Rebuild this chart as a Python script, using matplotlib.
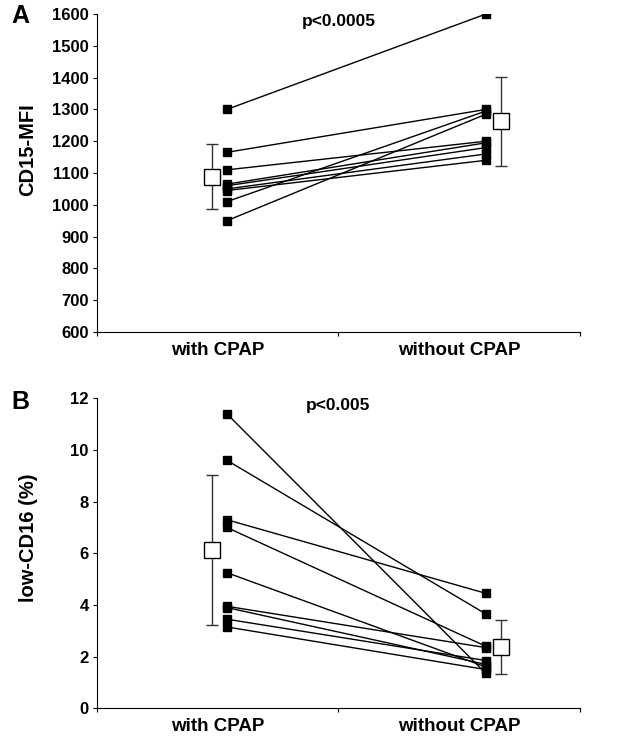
import matplotlib.pyplot as plt
import numpy as np

plt.rcParams["font.family"] = ["Liberation Sans", "DejaVu Sans"]
plt.rcParams["font.weight"] = "bold"

categories = ["with CPAP", "without CPAP"]

# panel A: CD15-MFI per subject
cd15_with = [1300, 1165, 1110, 1065, 1060, 1050, 1045, 1010, 950]
cd15_without = [1600, 1300, 1200, 1195, 1180, 1160, 1140, 1295, 1285]
cd15_mean = [1088, 1263]
cd15_sd = [102, 140]

# panel B: low-CD16 (%) per subject
cd16_with = [11.4, 9.6, 7.3, 7.0, 5.25, 3.95, 3.9, 3.45, 3.15]
cd16_without = [1.35, 3.65, 4.45, 2.4, 1.6, 2.35, 1.7, 1.85, 1.5]
cd16_mean = [6.13, 2.36]
cd16_sd = [2.92, 1.05]

x_pts = [0.538, 1.611]
x_mean = [0.476, 1.673]


def draw_panel(ax, before, after, mean, sd, ylim, yticks, ylabel, label_y, ptext):
    for a, b in zip(before, after):
        ax.plot(x_pts, [a, b], color="black", lw=1.0, marker="s", ms=5.5,
                mfc="black", mec="black", zorder=3)
    ax.errorbar(x_mean, mean, yerr=sd, fmt="none", ecolor="#333333",
                elinewidth=1.0, capsize=4, capthick=1.0, zorder=2)
    ax.plot(x_mean, mean, ls="none", marker="s", ms=11, mfc="white",
            mec="black", mew=1.0, zorder=4)
    ax.set_xlim(0, 2)
    ax.set_ylim(*ylim)
    ax.set_yticks(yticks)
    ax.set_xticks([0, 1, 2])
    ax.set_xticklabels([])
    ax.set_xticks([0.5, 1.5], minor=True)
    ax.set_xticklabels(categories, minor=True, fontsize=13.5, fontweight="bold")
    ax.tick_params(axis="x", which="minor", length=0, pad=7)
    ax.tick_params(axis="x", which="major", length=3, direction="out")
    ax.tick_params(axis="y", length=3, direction="out", labelsize=12, pad=3)
    for lab in ax.get_yticklabels():
        lab.set_fontweight("bold")
    ax.spines["top"].set_visible(False)
    ax.spines["right"].set_visible(False)
    ax.set_ylabel(ylabel, fontsize=14.5, fontweight="bold")
    ax.yaxis.set_label_coords(-0.123, label_y)
    ax.text(0.5, 1.0, ptext, transform=ax.transAxes, ha="center", va="top",
            fontsize=12.5, fontweight="bold")


fig = plt.figure(figsize=(6.19, 7.38), dpi=100)
ax_a = fig.add_axes([0.1567, 0.5501, 0.780, 0.4309])
ax_b = fig.add_axes([0.1567, 0.0402, 0.780, 0.4201])

draw_panel(ax_a, cd15_with, cd15_without, cd15_mean, cd15_sd, (600, 1600),
           np.arange(600, 1601, 100), "CD15-MFI", 0.575, "p<0.0005")
draw_panel(ax_b, cd16_with, cd16_without, cd16_mean, cd16_sd, (0, 12),
           np.arange(0, 13, 2), "low-CD16 (%)", 0.55, "p<0.005")

fig.text(20 / 619, 1 - 16 / 738, "A", ha="center", va="center",
         fontsize=18, fontweight="bold")
fig.text(20 / 619, 1 - 402 / 738, "B", ha="center", va="center",
         fontsize=18, fontweight="bold")

fig.savefig("out.png", dpi=100)
